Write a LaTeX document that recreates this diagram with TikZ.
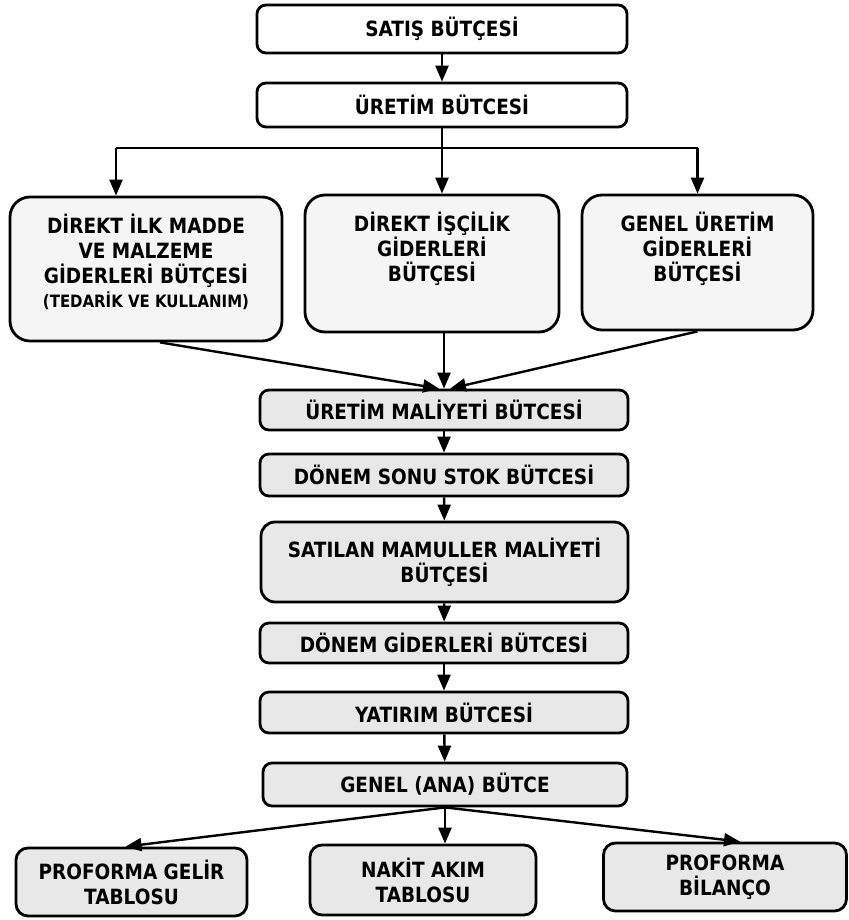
\documentclass[tikz,border=0pt]{standalone}
\usepackage{fontspec}
\setmainfont[FakeStretch=0.88]{DejaVu Sans}
\usetikzlibrary{positioning}
\usetikzlibrary{calc}
\usetikzlibrary{arrows.meta}
\newcommand{\chartfont}{\bfseries\fontsize{21}{25}\selectfont}
\newcommand{\notefont}{\bfseries\fontsize{17}{20}\selectfont}
\tikzset{
    % Filled triangular heads, close to the printed ones
    >={Triangle[length=16pt, width=13pt]},
%
    % The common rounded box of the chart
    budget box/.style={
        draw, line width=2.8pt, rounded corners=9pt, inner sep=0pt},
%
    % The three tall cost boxes
    cost box/.style={budget box, rounded corners=20pt},
%
    % Connectors
    flow/.style={line width=2.4pt, ->},
    flow line/.style={line width=2.4pt},
%
    % A faint fill for the cost boxes
    faint fill/.style={fill=black!4},
    % A light grey fill for the lower chain
    grey fill/.style={fill=black!9}}

\begin{document}
\begin{tikzpicture}[x=1pt, y=-1pt]

\tikzset{every node/.style={align=center, font=\chartfont}}

\useasboundingbox (0,0) rectangle (848,920);

\node (satis) [budget box, minimum width=370pt, minimum height=48pt]
    at (442,29) {SATIŞ BÜTÇESİ};
\node (uretim) [budget box, minimum width=370pt, minimum height=44pt]
    at (442,105) {ÜRETİM BÜTCESİ};

% the three cost budgets
\node (ilkmadde) [cost box, faint fill, minimum width=272pt, minimum height=144pt]
    at (146,269) {};
\node (iscilik) [cost box, faint fill, minimum width=254pt, minimum height=137pt]
    at (432,263.5) {};
\node (genelur) [cost box, faint fill, minimum width=231pt, minimum height=135pt]
    at (697.5,262.5) {};
\node (ilkmadde text) [below=15pt of ilkmadde.north]
    {DİREKT İLK MADDE\\VE MALZEME\\GİDERLERİ BÜTÇESİ\\[-1pt]
     {\notefont (TEDARİK VE KULLANIM)}};
\node (iscilik text) [below=15pt of iscilik.north]
    {DİREKT İŞÇİLİK\\GİDERLERİ\\BÜTÇESİ};
\node (genelur text) [below=15pt of genelur.north]
    {GENEL ÜRETİM\\GİDERLERİ\\BÜTÇESİ};

% the main chain
\node (maliyet) [budget box, grey fill, minimum width=368pt, minimum height=40pt]
    at (444,410) {ÜRETİM MALİYETİ BÜTCESİ};
\node (stok) [budget box, grey fill, minimum width=368pt, minimum height=42pt]
    at (444,475) {DÖNEM SONU STOK BÜTCESİ};
\node (satilan) [budget box, grey fill, rounded corners=14pt,
    minimum width=367pt, minimum height=80pt]
    at (444.5,562) {SATILAN MAMULLER MALİYETİ\\BÜTÇESİ};
\node (donem) [budget box, grey fill, minimum width=368pt, minimum height=40pt]
    at (444,643) {DÖNEM GİDERLERİ BÜTCESİ};
\node (yatirim) [budget box, grey fill, minimum width=368pt, minimum height=41pt]
    at (444,712.5) {YATIRIM BÜTCESİ};
\node (genel) [budget box, grey fill, minimum width=364pt, minimum height=43pt]
    at (445,784.5) {GENEL (ANA) BÜTCE};

% the three statements
\node (gelir) [budget box, grey fill, rounded corners=12pt,
    minimum width=231pt, minimum height=68pt]
    at (131.5,882) {PROFORMA GELİR\\TABLOSU};
\node (nakit) [budget box, grey fill, rounded corners=12pt,
    minimum width=226pt, minimum height=70pt]
    at (423,880) {NAKİT AKIM\\TABLOSU};
\node (bilanco) [budget box, grey fill, rounded corners=12pt,
    minimum width=243pt, minimum height=68pt]
    at (725,877) {PROFORMA\\BİLANÇO};

\draw [flow] (satis) -- (uretim);

\coordinate (left drop) at (116,148);
\coordinate (right drop) at (genelur.north |- left drop);
\draw [flow line] (left drop) -- (right drop);
\draw [flow] (uretim.south) -- (uretim.south |- iscilik.north);
\draw [flow] (left drop) -- (left drop |- ilkmadde.north);
\draw [flow] (right drop) -- (genelur.north);

\draw [flow] ($(ilkmadde.south)+(14,0)$) -- ($(maliyet.north)+(-5,0)$);
\draw [flow] (maliyet.north |- iscilik.south) -- (maliyet.north);
\draw [flow] (genelur.south) -- ($(maliyet.north)+(6,0)$);

\draw [flow] (maliyet) -- (stok);
\draw [flow] (stok) -- (satilan);
\draw [flow] (satilan) -- (donem);
\draw [flow] (donem) -- (yatirim);
\draw [flow] (yatirim) -- (genel);

\draw [flow] (genel.south) -- ($(gelir.north)+(-6,0)$);
\draw [flow] (genel.south) -- (genel.south |- nakit.north);
\draw [flow] (genel.south) -- ($(bilanco.north)+(15,0)$);

\end{tikzpicture}
\end{document}
